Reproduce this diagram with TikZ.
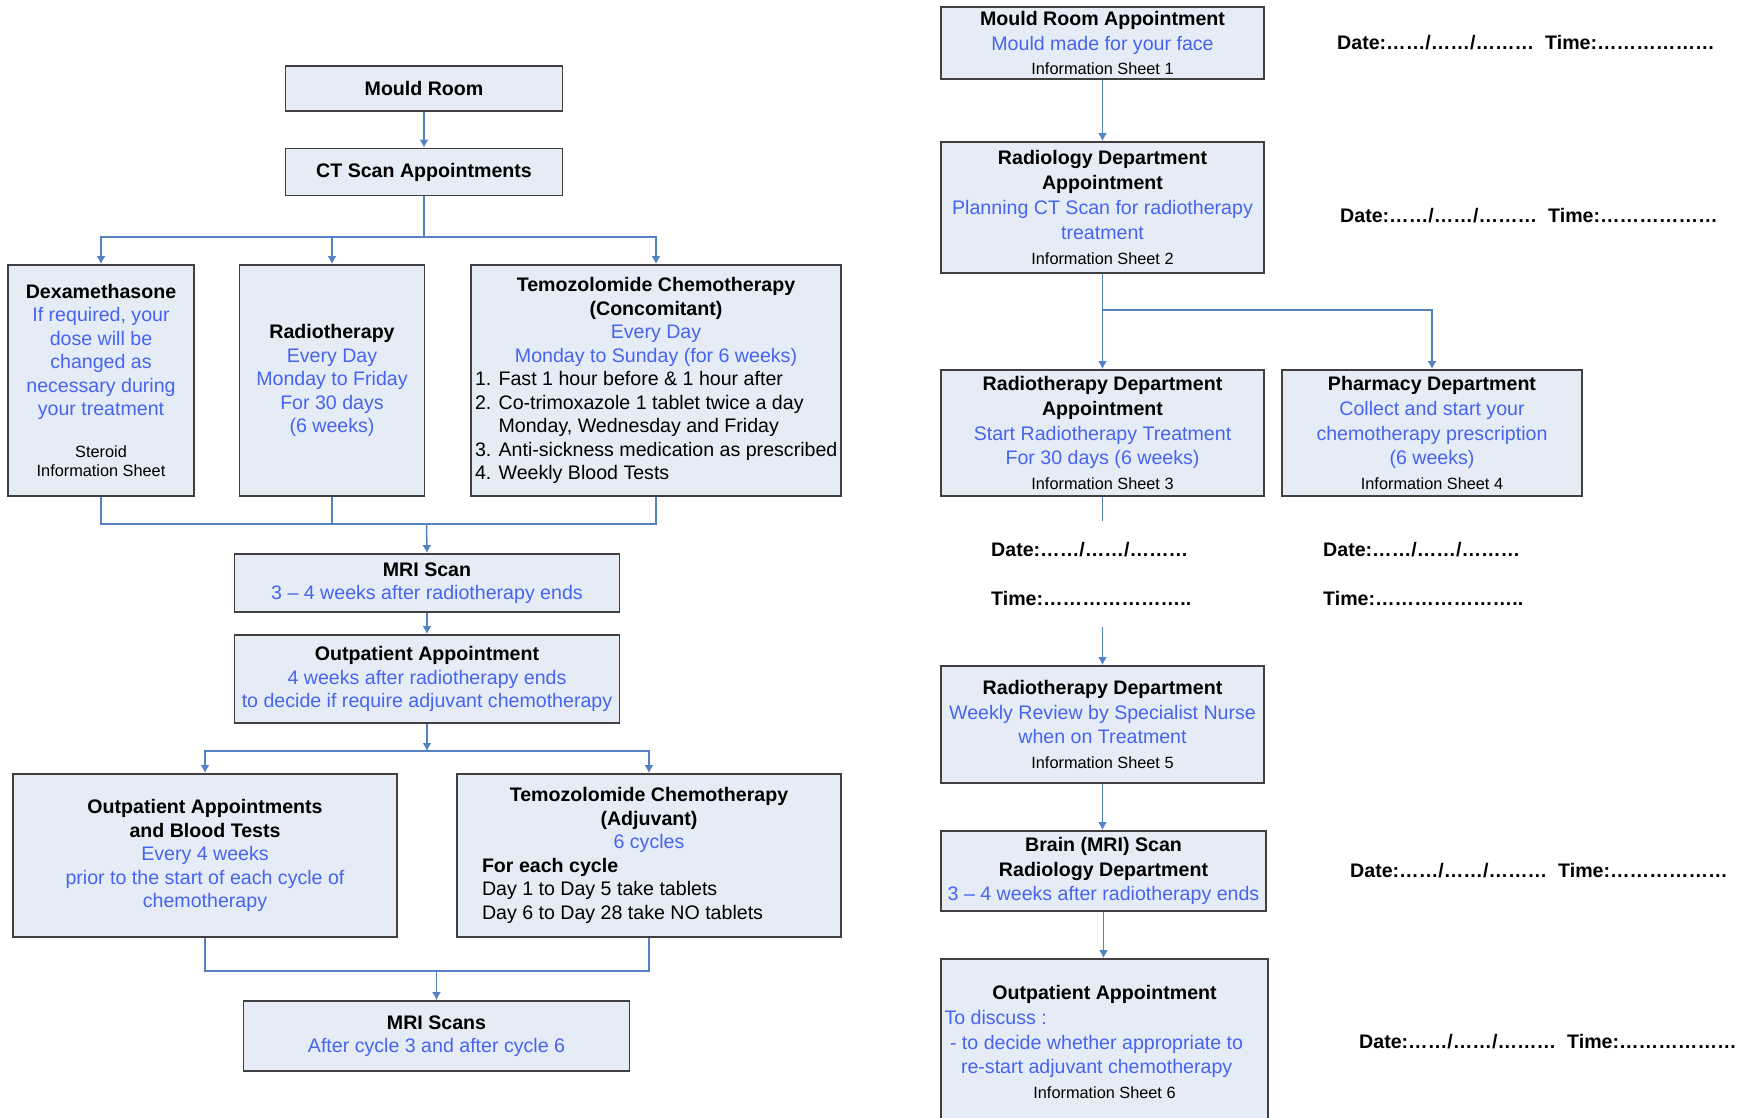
\documentclass[tikz,border=0pt]{standalone}
\usepackage{fontspec}
\setmainfont{Liberation Sans}
\usepackage{tikz}
\usetikzlibrary{arrows.meta,calc,positioning}

\definecolor{boxfill}{RGB}{230,236,246}
\definecolor{boxline}{RGB}{64,64,64}
\definecolor{linkblue}{RGB}{84,130,197}
\definecolor{txtblue}{RGB}{70,100,240}

\newcommand{\blu}[1]{{\color{txtblue}#1}}
\newcommand{\sheet}[1]{{\fontsize{16.3}{19.5}\selectfont #1}}
\newcommand{\lft}[2]{\makebox[#1][l]{#2}}

\tikzset{
  box/.style={draw=boxline, fill=boxfill, line width=1.8pt, inner sep=0pt, align=center,
    font=\fontsize{19.6}{23.5}\selectfont},
  rbox/.style={box, font=\fontsize{19.6}{24.8}\selectfont},
  datetxt/.style={anchor=west, inner sep=0pt, font=\fontsize{19.6}{23.5}\selectfont\bfseries},
  link/.style={linkblue, line width=1.5pt},
  arr/.style={link, -{Latex[length=8pt,width=9pt]}},
}

\begin{document}
\begin{tikzpicture}[x=1pt,y=-1pt]
            \useasboundingbox (0,0) rectangle (1750,1117);
            \clip (0,0) rectangle (1750,1117);

            % left column
            \node[box, minimum width=277pt, minimum height=45pt] (mould) at (424,88.5) {\textbf{Mould Room}};
            \node[box, minimum width=277pt, minimum height=47pt] (ct) at (424,172) {\textbf{CT Scan Appointments}};

            \node[box, minimum width=186pt, minimum height=231pt] (dexa) at (101,380.5)
              {\textbf{Dexamethasone}\\ \blu{If required, your}\\ \blu{dose will be}\\ \blu{changed as}\\
               \blu{necessary during}\\ \blu{your treatment}\\[18.5pt] \sheet{Steroid}\\[-4.5pt] \sheet{Information Sheet}};
            \node[box, minimum width=185pt, minimum height=231pt] (radio) at (332,380.5)
              {\textbf{Radiotherapy}\\ \blu{Every Day}\\ \blu{Monday to Friday}\\ \blu{For 30 days}\\ \blu{(6 weeks)}};
            \node[box, minimum width=370pt, minimum height=231pt] (temo) at (656,380.5)
              {\textbf{Temozolomide Chemotherapy}\\ \textbf{(Concomitant)}\\ \blu{Every Day}\\ \blu{Monday to Sunday (for 6 weeks)}\\
               \lft{362pt}{1. Fast 1 hour before \& 1 hour after}\\
               \lft{362pt}{2. Co-trimoxazole 1 tablet twice a day}\\
               \lft{362pt}{\phantom{2. }Monday, Wednesday and Friday}\\
               \lft{362pt}{3. Anti-sickness medication as prescribed}\\
               \lft{362pt}{4. Weekly Blood Tests}};

            \node[box, minimum width=385pt, minimum height=58pt] (mri) at (427,583)
              {\textbf{MRI Scan}\\ \blu{3 – 4 weeks after radiotherapy ends}};
            \node[box, minimum width=385pt, minimum height=88pt] (outpat) at (427,679)
              {\textbf{Outpatient Appointment}\\ \blu{4 weeks after radiotherapy ends}\\ \blu{to decide if require adjuvant chemotherapy}};

            \node[box, minimum width=384pt, minimum height=163pt] (opblood) at (205,855.5)
              {\textbf{Outpatient Appointments}\\ \textbf{and Blood Tests}\\ \blu{Every 4 weeks}\\
               \blu{prior to the start of each cycle of}\\ \blu{chemotherapy}};
            \node[box, minimum width=384pt, minimum height=163pt] (temoadj) at (649,855.5)
              {\textbf{Temozolomide Chemotherapy}\\ \textbf{(Adjuvant)}\\ \blu{6 cycles}\\
               \lft{334pt}{\textbf{For each cycle}}\\
               \lft{334pt}{Day 1 to Day 5 take tablets}\\
               \lft{334pt}{Day 6 to Day 28 take NO tablets}};

            \node[box, minimum width=386pt, minimum height=70pt] (mriscans) at (436.5,1036)
              {\textbf{MRI Scans}\\ \blu{After cycle 3 and after cycle 6}};

            % right column
            \node[rbox, minimum width=323pt, minimum height=72pt] (mra) at (1102.5,43)
              {\textbf{Mould Room Appointment}\\ \blu{Mould made for your face}\\ \sheet{Information Sheet 1}};
            \node[rbox, minimum width=323pt, minimum height=131pt] (radiol) at (1102.5,207.5)
              {\textbf{Radiology Department}\\ \textbf{Appointment}\\ \blu{Planning CT Scan for radiotherapy}\\
               \blu{treatment}\\ \sheet{Information Sheet 2}};
            \node[rbox, minimum width=323pt, minimum height=126pt] (rtdept) at (1102.5,433)
              {\textbf{Radiotherapy Department}\\ \textbf{Appointment}\\ \blu{Start Radiotherapy Treatment}\\
               \blu{For 30 days (6 weeks)}\\ \sheet{Information Sheet 3}};
            \node[rbox, minimum width=300pt, minimum height=126pt] (pharm) at (1432,433)
              {\textbf{Pharmacy Department}\\ \blu{Collect and start your}\\ \blu{chemotherapy prescription}\\
               \blu{(6 weeks)}\\ \sheet{Information Sheet 4}};
            \node[rbox, minimum width=323pt, minimum height=117pt] (rtweekly) at (1102.5,724.5)
              {\textbf{Radiotherapy Department}\\ \blu{Weekly Review by Specialist Nurse}\\ \blu{when on Treatment}\\
               \sheet{Information Sheet 5}};
            \node[rbox, minimum width=325pt, minimum height=80pt] (brain) at (1103.5,871)
              {\textbf{Brain (MRI) Scan}\\ \textbf{Radiology Department}\\ \blu{3 – 4 weeks after radiotherapy ends}};
            \node[rbox, minimum width=327pt, minimum height=166pt] (opfinal) at (1104.5,1042)
              {\textbf{Outpatient Appointment}\\
               \lft{320pt}{\blu{To discuss :}}\\
               \lft{320pt}{\hspace{5.5pt}\blu{- to decide whether appropriate to}}\\
               \lft{320pt}{\hspace{16.5pt}\blu{re-start adjuvant chemotherapy}}\\
               \sheet{Information Sheet 6}};

            % dates
            \node[datetxt] (dt1) at (1337,43) {Date:……/……/………\ \ Time:………………};
            \node[datetxt] (dt2) at (1340,216) {Date:……/……/………\ \ Time:………………};
            \node[datetxt] (dt3) at (991,550) {Date:……/……/………};
            \node[datetxt] (tm3) at (991,598) {Time:…………………..};
            \node[datetxt] (dt4) at (1323,550) {Date:……/……/………};
            \node[datetxt] (tm4) at (1323,598) {Time:…………………..};
            \node[datetxt] (dt5) at (1350,871) {Date:……/……/………\ \ Time:………………};
            \node[datetxt] (dt6) at (1359,1042) {Date:……/……/………\ \ Time:………………};

            % junctions
            \coordinate (ctsplit) at (424,237);
            \coordinate (rtjoin) at (426.5,524);
            \coordinate (opsplit) at (427,751);
            \coordinate (cyclejoin) at (436.5,971);
            \coordinate (rsplit) at (1102.5,310);
            \coordinate (rtend) at (1102.5,521);
            \coordinate (rtstart) at (1102.5,627);

            % left connectors
            \draw[arr] (mould.south) -- (ct.north);
            \draw[link] (ct.south) -- (ctsplit);
            \draw[arr] (ctsplit) -| (dexa.north);
            \draw[arr] (ctsplit) -| (radio.north);
            \draw[arr] (ctsplit) -| (temo.north);
            \draw[link] (dexa.south) |- (rtjoin) -| (temo.south);
            \draw[link] (radio.south) -- (radio.south |- rtjoin);
            \draw[arr] (rtjoin) -- (mri.north);
            \draw[arr] (mri.south) -- (outpat.north);
            \draw[arr] (outpat.south) -- (opsplit);
            \draw[arr] (opsplit) -| (opblood.north);
            \draw[arr] (opsplit) -| (temoadj.north);
            \draw[link] (opblood.south) |- (cyclejoin) -| (temoadj.south);
            \draw[arr] (cyclejoin) -- (mriscans.north);

            % right connectors
            \draw[arr] (mra.south) -- (radiol.north);
            \draw[arr] (radiol.south) -- (rtdept.north);
            \draw[arr] (rsplit) -| (pharm.north);
            \draw[link] (rtdept.south) -- (rtend);
            \draw[arr] (rtstart) -- (rtweekly.north);
            \draw[arr] (rtweekly.south) -- (rtweekly.south |- brain.north);
            \draw[arr] (brain.south) -- (brain.south |- opfinal.north);
\end{tikzpicture}
\end{document}
